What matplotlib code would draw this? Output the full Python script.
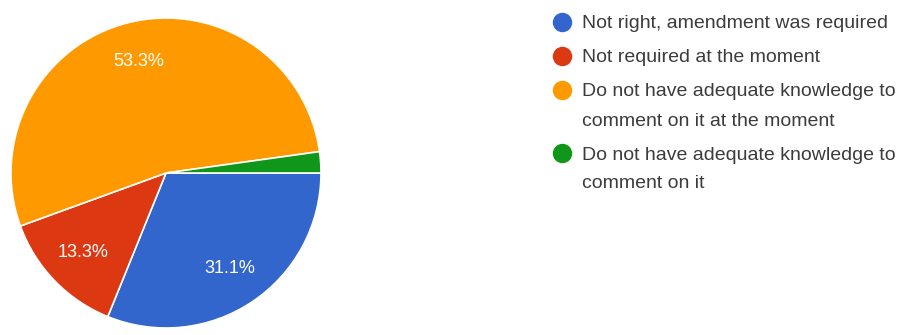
import matplotlib.pyplot as plt
from matplotlib.lines import Line2D

labels = [
    "Not right, amendment was required",
    "Not required at the moment",
    "Do not have adequate knowledge to\ncomment on it at the moment",
    "Do not have adequate knowledge to\ncomment on it",
]
shares = [31.1, 13.3, 53.3, 2.2]
colors = ["#3366CC", "#DC3912", "#FF9900", "#109618"]

plt.rcParams["font.family"] = ["Liberation Sans", "DejaVu Sans"]

W, H = 924, 335
fig = plt.figure(figsize=(W / 100, H / 100), dpi=100)

# pie, centred at (166, 173) px with a 155 px radius
cx, cy, r = 166, 173, 155
ax = fig.add_axes([(cx - r) / W, (H - cy - r) / H, 2 * r / W, 2 * r / H])

wedges, texts, autotexts = ax.pie(
    shares,
    colors=colors,
    startangle=0,
    counterclock=False,
    autopct="%.1f%%",
    pctdistance=0.74,
    radius=1.0,
    wedgeprops=dict(edgecolor="white", linewidth=1.2),
    textprops=dict(color="white", fontsize=13),
)
# label with the stated shares; tiny slices stay unlabelled
for t, v in zip(autotexts, shares):
    t.set_text(f"{v:.1f}%" if v >= 5 else "")

ax.set_xlim(-1, 1)
ax.set_ylim(-1, 1)
ax.set_aspect("equal")

# legend drawn in pixel coordinates
lg = fig.add_axes([0, 0, 1, 1])
lg.set_xlim(0, W)
lg.set_ylim(H, 0)
lg.axis("off")

y = 22
for lab, col in zip(labels, colors):
    lg.add_line(Line2D([562], [y], marker="o", markersize=14, color=col, markeredgewidth=0))
    for line in lab.split("\n"):
        lg.text(582, y, line, fontsize=14, color="#3c3c3c", va="center_baseline", ha="left")
        y += 29
    y += 5

fig.savefig("out.png", dpi=100, facecolor="white")
